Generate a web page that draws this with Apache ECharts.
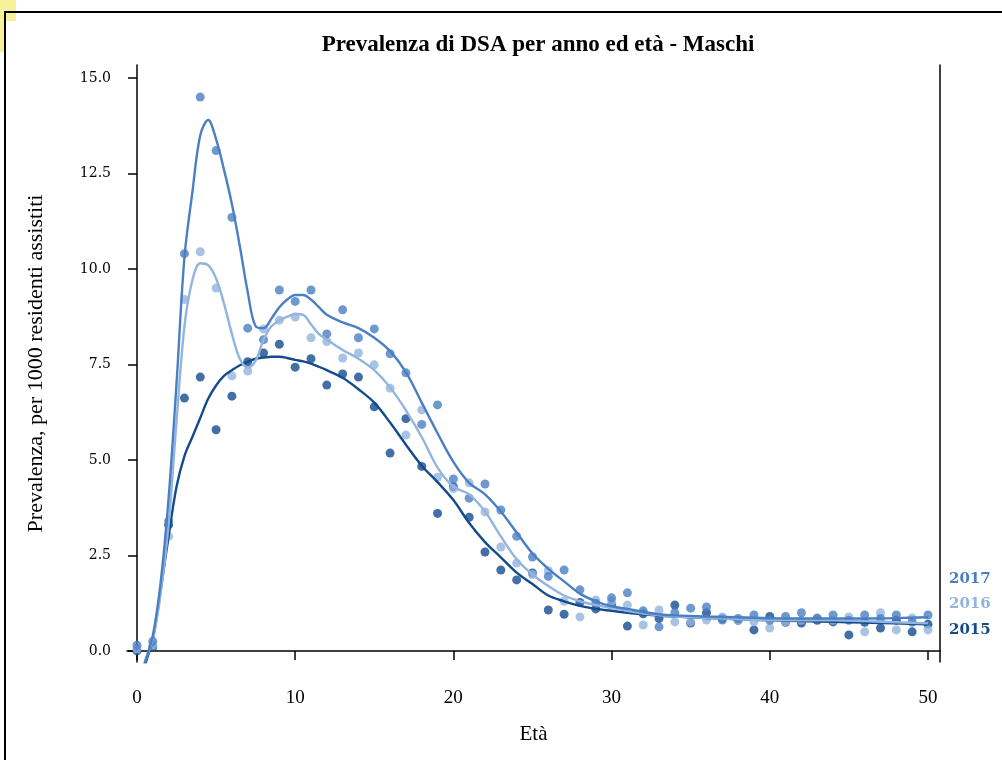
<!DOCTYPE html>
<html><head><meta charset="utf-8">
<script src="https://cdn.jsdelivr.net/npm/echarts@6/dist/echarts.min.js"></script>
<style>html,body{margin:0;padding:0;background:#fff}#c{width:1002px;height:760px}</style>
</head><body><div id="c"></div>
<script>
var ages = [0,1,2,3,4,5,6,7,8,9,10,11,12,13,14,15,16,17,18,19,20,21,22,23,24,25,26,27,28,29,30,31,32,33,34,35,36,37,38,39,40,41,42,43,44,45,46,47,48,49,50];
var obs2017 = [0.15,0.25,3.4,10.4,14.5,13.1,11.35,8.45,8.15,9.45,9.15,9.45,8.3,8.93,8.2,8.43,7.78,7.28,5.93,6.44,4.5,4.0,4.37,3.69,3.0,2.46,1.95,2.12,1.6,1.25,1.39,1.52,1.05,0.63,1.0,1.12,1.15,0.81,0.85,0.94,0.8,0.9,1.0,0.86,0.94,0.8,0.94,0.85,0.94,0.75,0.94];
var obs2016 = [0.05,0.15,3.0,9.2,10.45,9.5,7.2,7.33,8.43,8.66,8.74,8.2,8.1,7.67,7.8,7.49,6.88,5.65,6.31,4.55,4.25,4.4,3.64,2.72,2.3,2.0,2.1,1.3,0.89,1.33,1.3,1.2,0.68,1.07,0.76,0.76,0.81,0.89,0.8,0.76,0.6,0.76,0.8,0.85,0.8,0.89,0.5,1.0,0.55,0.86,0.55];
var obs2015 = [0.0,0.1,3.3,6.62,7.17,5.79,6.67,7.57,7.8,8.03,7.43,7.65,6.96,7.25,7.17,6.39,5.18,6.08,4.83,3.6,4.3,3.5,2.59,2.12,1.86,2.04,1.07,0.96,1.27,1.1,1.2,0.65,0.97,0.85,1.2,0.73,1.0,0.85,0.8,0.55,0.9,0.75,0.73,0.8,0.76,0.42,0.75,0.6,0.8,0.5,0.7];

var fitX = [0,0.5,1,1.5,2,2.5,3,3.5,4,4.5,5,5.5,6,6.5,7,7.5,8,8.5,9,9.5,10,10.5,11,11.5,12,13,14,15,16,17,18,19,20,21,22,23,24,25,26,27,28,29,30,31,32,33,34,36,38,40,42,44,46,48,50];
var fit2017 = [-1.0,-0.3,0.4,1.8,4.0,7.0,10.3,12.0,13.5,13.9,13.4,12.6,11.7,10.6,9.4,8.5,8.45,8.7,9.0,9.2,9.32,9.32,9.2,9.0,8.8,8.6,8.45,8.2,7.85,7.3,6.5,5.7,4.95,4.4,4.1,3.65,3.1,2.55,2.15,1.82,1.5,1.3,1.17,1.1,1.02,0.96,0.93,0.9,0.88,0.86,0.85,0.85,0.85,0.86,0.88];
var fit2016 = [-1.2,-0.3,0.3,1.5,3.3,6.0,8.5,9.7,10.15,10.1,9.75,9.1,8.3,7.65,7.42,7.6,8.15,8.5,8.65,8.75,8.82,8.8,8.55,8.3,8.15,7.88,7.65,7.35,6.9,6.3,5.6,4.8,4.3,4.1,3.65,3.0,2.4,2.0,1.7,1.45,1.3,1.2,1.12,1.05,0.98,0.93,0.9,0.87,0.83,0.8,0.8,0.8,0.78,0.75,0.72];
var fit2015 = [-1.5,-0.4,0.3,1.6,3.0,4.3,5.1,5.6,6.1,6.6,6.95,7.2,7.35,7.48,7.57,7.65,7.68,7.7,7.7,7.67,7.62,7.58,7.52,7.44,7.35,7.15,6.85,6.5,5.98,5.4,4.85,4.42,3.95,3.35,2.85,2.45,2.05,1.75,1.45,1.3,1.18,1.1,1.05,1.0,0.96,0.92,0.9,0.86,0.83,0.8,0.78,0.76,0.74,0.72,0.7];

var xTicks = [0,10,20,30,40,50];
var yTicks = [0,2.5,5,7.5,10,12.5,15];
var yearLabels = ['2017','2016','2015'];

var C17 = '#4a7fc3', C16 = '#93b4de', C15 = '#134b8d';
function pairs(xs, ys){ return xs.map(function(x,i){ return [x, ys[i]]; }); }

var chart = echarts.init(document.getElementById('c'), null, {renderer:'canvas'});
var serif = 'Liberation Serif';
function lineS(name, data, color, z){
  return {name:name, type:'line', data:pairs(fitX, data), showSymbol:false, symbol:'none', smooth:0.35,
    lineStyle:{color:color, width:2.4}, z:z, clip:true, silent:true};
}
function scatS(name, data, color, z){
  return {name:name, type:'scatter', data:pairs(ages, data), symbol:'circle', symbolSize:9,
    itemStyle:{color:color}, z:z, silent:true};
}
chart.setOption({
  animation:false,
  backgroundColor:'#fff',
  title:{text:'Prevalenza di DSA per anno ed età - Maschi', left:533, top:29, textAlign:'center',
    textStyle:{fontFamily:serif, fontWeight:'bold', fontSize:23, color:'#000'}},
  grid:{left:127, right:62, top:65, bottom:98},
  xAxis:{type:'value', min:-0.63, max:50.76,
    name:'Età', nameLocation:'middle', nameGap:62,
    nameTextStyle:{fontFamily:serif, fontSize:21, color:'#000'},
    axisLine:{show:true, lineStyle:{color:'#000', width:1.5}},
    axisTick:{show:true, length:9, inside:false, customValues:xTicks, lineStyle:{color:'#000', width:1.5}},
    axisLabel:{customValues:xTicks, fontFamily:serif, fontSize:19, color:'#000', margin:27},
    splitLine:{show:false}},
  yAxis:[{type:'value', min:-0.29, max:15.34,
    name:'Prevalenza, per 1000 residenti assistiti', nameLocation:'middle', nameGap:80, nameRotate:90,
    nameTextStyle:{fontFamily:serif, fontSize:22, color:'#000'},
    axisLine:{show:true, lineStyle:{color:'#000', width:1.5}},
    axisTick:{show:true, length:9, customValues:yTicks, lineStyle:{color:'#000', width:1.5}},
    axisLabel:{customValues:yTicks, fontFamily:'DejaVu Serif', fontSize:14, color:'#000', margin:16,
      formatter:function(v){return v.toFixed(1);}},
    splitLine:{show:false}},
   {type:'value', position:'right', min:-0.29, max:15.34,
    axisLine:{show:true, lineStyle:{color:'#000', width:1.5}},
    axisTick:{show:false}, axisLabel:{show:false}, splitLine:{show:false}}],
  series:[
    scatS('2015', obs2015, C15, 3),
    scatS('2016', obs2016, C16, 3),
    scatS('2017', obs2017, C17, 3),
    lineS('2015 fit', fit2015, C15, 4),
    lineS('2016 fit', fit2016, C16, 4),
    lineS('2017 fit', fit2017, C17, 5)
  ],
  graphic:[
    {type:'rect', shape:{x:0,y:0,width:16,height:21}, style:{fill:'#f7f19a'}, z:0},
    {type:'rect', shape:{x:0,y:0,width:4,height:52}, style:{fill:'#f7f19a'}, z:0},
    {type:'line', shape:{x1:4,y1:12,x2:1002,y2:12}, style:{stroke:'#000', lineWidth:2}},
    {type:'line', shape:{x1:5,y1:12,x2:5,y2:760}, style:{stroke:'#000', lineWidth:2}},
    {type:'text', left:949, top:572, style:{text:yearLabels[0], fill:C17, font:'bold 15px "DejaVu Serif"'}},
    {type:'text', left:949, top:597, style:{text:yearLabels[1], fill:C16, font:'bold 15px "DejaVu Serif"'}},
    {type:'text', left:949, top:623, style:{text:yearLabels[2], fill:C15, font:'bold 15px "DejaVu Serif"'}}
  ]
});
</script></body></html>
